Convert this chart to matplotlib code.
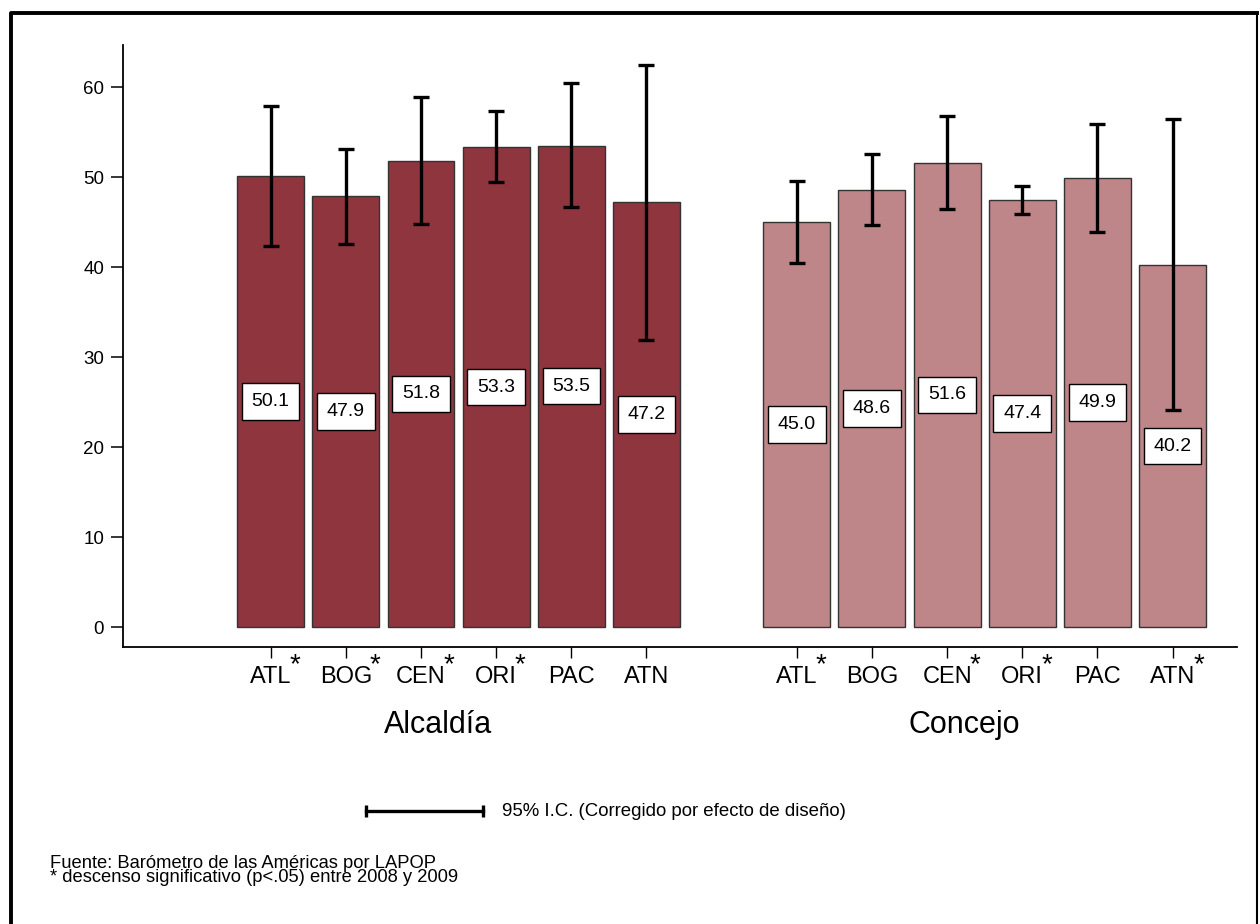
import matplotlib
matplotlib.use("Agg")
import matplotlib.pyplot as plt
from matplotlib.lines import Line2D
import numpy as np

plt.rcParams['font.family'] = ['Liberation Sans', 'DejaVu Sans']

# Data
regions = ['ATL', 'BOG', 'CEN', 'ORI', 'PAC', 'ATN']
groups = ['Alcaldía', 'Concejo']

alcaldia = [50.1, 47.9, 51.8, 53.3, 53.5, 47.2]
alc_lo = [42.3, 42.6, 44.8, 49.4, 46.7, 31.9]
alc_hi = [57.9, 53.1, 58.9, 57.3, 60.4, 62.5]
alc_sig = [True, True, True, True, False, False]

concejo = [45.0, 48.6, 51.6, 47.4, 49.9, 40.2]
con_lo = [40.5, 44.7, 46.4, 45.9, 43.9, 24.1]
con_hi = [49.6, 52.6, 56.8, 49.0, 55.9, 56.4]
con_sig = [True, False, True, True, False, True]

yticks = [0, 10, 20, 30, 40, 50, 60]

colors = ['#8e353d', '#be8688']

fig = plt.figure(figsize=(12.6, 9.24), dpi=100)
ax = fig.add_axes([0.0976, 0.2998, 0.8841, 0.6515])

x_alc = np.arange(6)
x_con = np.arange(6) + 7

series = [(x_alc, alcaldia, alc_lo, alc_hi, alc_sig),
          (x_con, concejo, con_lo, con_hi, con_sig)]

all_x = []
all_sig = []
for i, (xs, vals, lo, hi, sig) in enumerate(series):
    vals = np.array(vals)
    ax.bar(xs, vals, width=0.89, color=colors[i], edgecolor='#333333',
           linewidth=1.0, zorder=2)
    err = [vals - np.array(lo), np.array(hi) - vals]
    ax.errorbar(xs, vals, yerr=err, fmt='none', ecolor='black',
                elinewidth=2.4, capsize=6, capthick=2.4, zorder=3)
    for x, v in zip(xs, vals):
        ax.text(x, v / 2, '%.1f' % v, ha='center', va='center', fontsize=14,
                zorder=4,
                bbox=dict(boxstyle='square,pad=0.5', fc='white', ec='black', lw=1))
    all_x.extend(xs)
    all_sig.extend(sig)
    # group label under the ticks
    ax.text(np.mean(xs) - 0.27, -0.13, groups[i], transform=ax.get_xaxis_transform(),
            ha='center', va='center', fontsize=22)

ax.set_xlim(-1.965, 12.857)
ax.set_ylim(-2.22, 64.67)

ax.set_yticks(yticks)
ax.set_yticklabels([str(t) for t in yticks], fontsize=13.5)
ax.set_xticks(all_x)
ax.set_xticklabels(regions + regions, fontsize=17)

ax.tick_params(axis='y', length=8.5, width=1.1, pad=5)
ax.tick_params(axis='x', length=8, width=1.0, pad=6)

for s in ['top', 'right']:
    ax.spines[s].set_visible(False)
ax.spines['left'].set_linewidth(1.3)
ax.spines['bottom'].set_linewidth(1.3)

# significance asterisks beside the tick labels
for lab, sig in zip(ax.get_xticklabels(), all_sig):
    if sig:
        ax.annotate('*', xy=(1, 1), xycoords=lab, xytext=(-1.5, 1),
                    textcoords='offset points', ha='left', va='center',
                    fontsize=20)

# legend for the confidence interval
ly = 1 - 811 / 924
fig.add_artist(Line2D([366 / 1260, 483 / 1260], [ly, ly], transform=fig.transFigure,
                      color='black', lw=2.4, marker='|', markersize=8, mew=2.4))
fig.text(502 / 1260, ly, '95% I.C. (Corregido por efecto de diseño)',
         ha='left', va='center', fontsize=13.4)

# footnotes
fig.text(50 / 1260, 1 - 855 / 924,
         'Fuente: Barómetro de las Américas por LAPOP\n'
         '* descenso significativo (p<.05) entre 2008 y 2009',
         ha='left', va='top', fontsize=13.2, linespacing=0.8)

# frame around the figure
fig.add_artist(Line2D([11 / 1260, 11 / 1260, 1257 / 1260], [0, 1 - 13 / 924, 1 - 13 / 924],
                      transform=fig.transFigure, color='black', lw=2.8))
fig.add_artist(Line2D([1257 / 1260, 1257 / 1260], [1 - 13 / 924, 0],
                      transform=fig.transFigure, color='black', lw=1.5))

fig.savefig('out.png', dpi=100)
